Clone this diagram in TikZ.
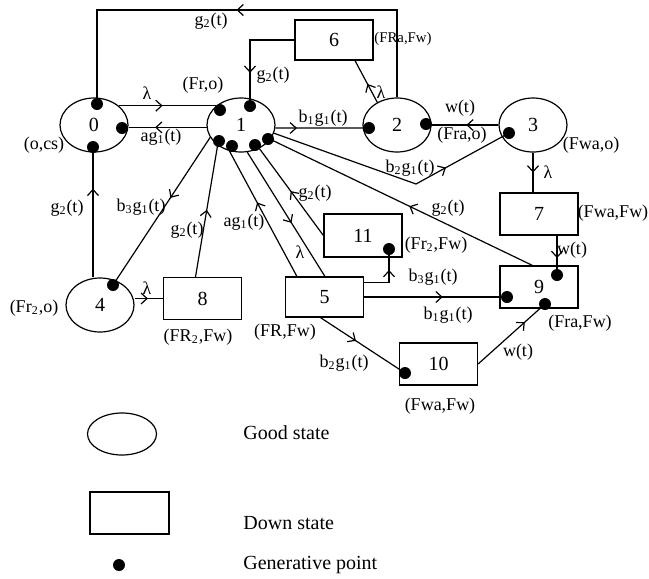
\documentclass[tikz,border=0pt]{standalone}
\usepackage{fontspec}
\setmainfont{Liberation Serif}
\usetikzlibrary{shapes.geometric,arrows.meta,decorations.markings,calc}
\tikzset{
  good/.style={ellipse, draw, line width=0.6pt, minimum width=34pt, minimum height=27pt, inner sep=0pt, font=\fontsize{10}{12}\selectfont},
  down/.style={rectangle, draw, line width=0.6pt, minimum width=39pt, minimum height=21pt, inner sep=0pt, font=\fontsize{10}{12}\selectfont},
  gp/.style={circle, fill, inner sep=0pt, minimum size=6pt},
  lbl/.style={font=\fontsize{9}{11}\selectfont, inner sep=0pt},
  slbl/.style={font=\fontsize{7.4}{9}\selectfont, inner sep=0pt},
  leg/.style={font=\fontsize{10}{12}\selectfont, inner sep=0pt, anchor=west},
  conn/.style={line width=0.6pt},
  arr/.style={postaction={decorate, decoration={markings, mark=at position #1 with {\arrow{Straight Barb[length=3pt,width=5.5pt,line width=0.6pt]}}}}},
}
\begin{document}
\begin{tikzpicture}[x=0.5pt,y=-0.5pt]
\useasboundingbox (0,0) rectangle (649,579);
% states
\node[good] (n0) at (94,125) {0};
\node[good] (n1) at (241,125) {1};
\node[good] (n2) at (397,125) {2};
\node[good] (n3) at (533,125) {3};
\node[good] (n4) at (100,305) {4};
\node[down, minimum height=20pt] (n6) at (334,40) {6};
\node[down] (n7) at (539,214) {7};
\node[down] (n9) at (539,287) {9};
\node[down, minimum height=21.5pt] (n11) at (363,235.5) {11};
\node[down, minimum height=20pt] (n5) at (324.5,297) {5};
\node[down] (n8) at (202.5,298.5) {8};
\node[down] (n10) at (438.5,364) {10};
% generative points
\node[gp] (d0a) at (97,104) {};
\node[gp] (d0b) at (122,128) {};
\node[gp] (d0c) at (93,147) {};
\node[gp] (d1a) at (220,110) {};
\node[gp] (d1b) at (250,106) {};
\node[gp] (d1c) at (219,141) {};
\node[gp] (d1d) at (232,146) {};
\node[gp] (d1e) at (255,145) {};
\node[gp] (d1f) at (268,139) {};
\node[gp] (d2a) at (369,128) {};
\node[gp] (d2b) at (426,124) {};
\node[gp] (d3) at (509,133) {};
\node[gp] (d4) at (113,285) {};
\node[gp] (d9a) at (557,275) {};
\node[gp] (d9b) at (507,297) {};
\node[gp] (d9c) at (545,304) {};
\node[gp] (d10) at (405,373) {};
\node[gp] (d11) at (389,249) {};
\coordinate (topc) at (240,10);
\coordinate (bend) at (416,184);
% connectors
\draw[conn,arr=0.515] (n2.north) |- (topc) -| (d0a.center);
\draw[conn,arr=0.45] (n0.38) -- (n1.142);
\draw[conn,arr=0.66] (n1.184) -- (n1.184 -| n0.east);
\draw[conn,arr=0.23] (n1.-5) -- (d2a.center);
\draw[conn,arr=0.48] (n3.west) -- (n2.east);
\draw[conn,arr=0.44] (n2.131) -- ($(n6.south)+(21,0)$);
\draw[conn,arr=0.70] (n6.west) -| (d1b.center);
\draw[conn,arr=0.72] (n1.346) -- (bend) -- (d3.center);
\draw[conn,arr=0.5] (n3.south) -- (n3.south |- n7.north);
\draw[conn,arr=0.57] (d9a |- n7.south) -- (d9a.center);
\draw[conn,arr=0.68] (n4.north -| d0c) -- (d0c.center);
\draw[conn,arr=0.41] (n1.202) -- (d4.center);
\draw[conn,arr=0.47] (n4.east |- n8.west) -- (n8.west);
\draw[conn,arr=0.51] ($(n8.north)+(-7,0)$) -- (n1.221);
\draw[conn,arr=0.59] ($(n5.north west)+(12,0)$) -- (n1.246);
\draw[conn,arr=0.57] (n1.283) -- ($(n5.north west)+(40,0)$);
\draw[conn,arr=0.51] (n11.west) -- (n1.308);
\draw[conn,arr=0.47] ($(n9.north west)+(33,0)$) -- (n1.334);
\draw[conn,arr=0.64] ($(n5.north east)+(0,6)$) -| (d11.center);
\draw[conn,arr=0.55] (n5.east) -- (d9b.center);
\draw[conn,arr=0.42] ($(n5.south)+(-4,0)$) -- (d10.center);
\draw[conn,arr=0.70] (n10.east) -- (d9c.center);
% labels
\node[lbl] (la) at (44,145) {(o,cs)};
\node[lbl] (lb) at (203,85) {(Fr,o)};
\node[lbl] (lc) at (147,93) {λ};
\node[lbl] (ld) at (161,137) {ag\textsubscript{1}(t)};
\node[lbl] (le) at (211,21) {g\textsubscript{2}(t)};
\node[lbl] (lf) at (273,75) {g\textsubscript{2}(t)};
\node[lbl] (lg) at (323,118) {b\textsubscript{1}g\textsubscript{1}(t)};
\node[slbl] (lh) at (403,39) {(FRa,Fw)};
\node[lbl] (li) at (381,92) {λ};
\node[lbl] (lj) at (460,108) {w(t)};
\node[lbl] (lk) at (462,135) {(Fra,o)};
\node[lbl] (ll) at (591,145) {(Fwa,o)};
\node[lbl] (lm) at (410,168) {b\textsubscript{2}g\textsubscript{1}(t)};
\node[lbl] (ln) at (548,172) {λ};
\node[lbl] (lo) at (613,213) {(Fwa,Fw)};
\node[lbl] (lp) at (572,250) {w(t)};
\node[lbl] (lq) at (436,245) {(Fr\textsubscript{2},Fw)};
\node[lbl] (lr) at (448,208) {g\textsubscript{2}(t)};
\node[lbl] (ls) at (315,193) {g\textsubscript{2}(t)};
\node[lbl] (lt) at (433,277) {b\textsubscript{3}g\textsubscript{1}(t)};
\node[lbl] (lu) at (448,315) {b\textsubscript{1}g\textsubscript{1}(t)};
\node[lbl] (lv) at (580,323) {(Fra,Fw)};
\node[lbl] (lw) at (344,363) {b\textsubscript{2}g\textsubscript{1}(t)};
\node[lbl] (lx) at (518,352) {w(t)};
\node[lbl] (ly) at (440,406) {(Fwa,Fw)};
\node[lbl] (lz) at (285,332) {(FR,Fw)};
\node[lbl] (lA) at (198,337) {(FR\textsubscript{2},Fw)};
\node[lbl] (lB) at (34,308) {(Fr\textsubscript{2},o)};
\node[lbl] (lC) at (67,208) {g\textsubscript{2}(t)};
\node[lbl] (lD) at (141,207) {b\textsubscript{3}g\textsubscript{1}(t)};
\node[lbl] (lE) at (187,230) {g\textsubscript{2}(t)};
\node[lbl] (lF) at (244,222) {ag\textsubscript{1}(t)};
\node[lbl] (lG) at (300,252) {λ};
\node[lbl] (lH) at (147,288) {λ};
% legend
\node[good, minimum width=34.5pt, minimum height=21pt] (lgA) at (122,434) {};
\node[down, minimum width=39.5pt] (lgB) at (129.5,513) {};
\node[gp] (lgC) at (119,565) {};
\node[leg] (lgAt) at (243,433) {Good state};
\node[leg] (lgBt) at (243,523) {Down state};
\node[leg] (lgCt) at (243,565) {Generative point};
\end{tikzpicture}
\end{document}
